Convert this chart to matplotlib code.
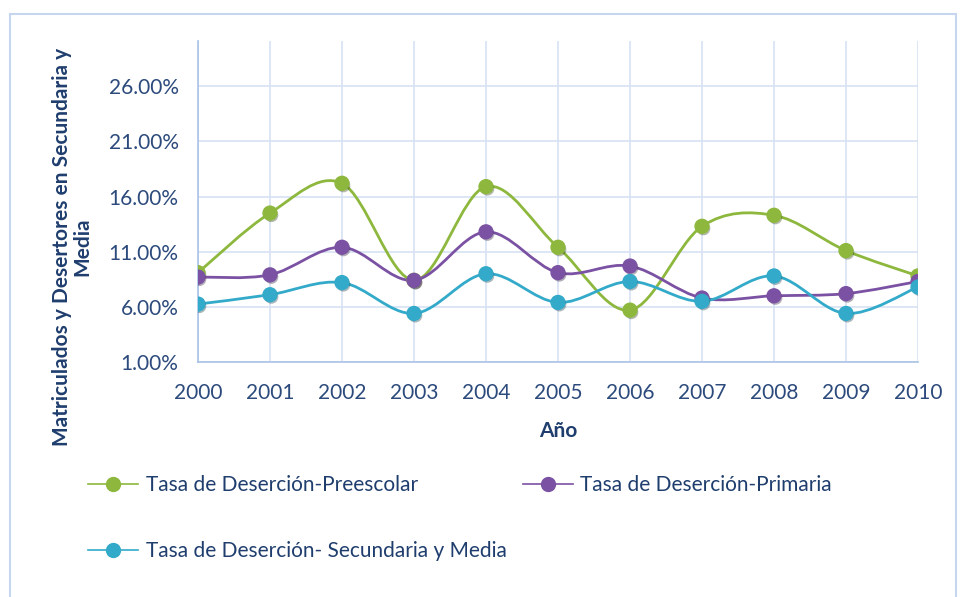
import matplotlib
matplotlib.use("Agg")
import matplotlib.pyplot as plt
import matplotlib.patheffects as pe
from matplotlib.path import Path
from matplotlib.patches import PathPatch, Rectangle
from matplotlib.lines import Line2D
from matplotlib.ticker import FuncFormatter

years = [2000, 2001, 2002, 2003, 2004, 2005, 2006, 2007, 2008, 2009, 2010]
preescolar = [9.1, 14.5, 17.2, 8.4, 16.9, 11.4, 5.7, 13.3, 14.3, 11.1, 8.8]
primaria = [8.7, 8.9, 11.4, 8.4, 12.8, 9.1, 9.7, 6.8, 7.0, 7.2, 8.3]
secundaria = [6.25, 7.1, 8.2, 5.4, 9.0, 6.4, 8.3, 6.5, 8.8, 5.4, 7.8]
yticks = [1, 6, 11, 16, 21, 26]

series = [
    ("Tasa de Deserción-Preescolar", preescolar, "#8db83d"),
    ("Tasa de Deserción-Primaria", primaria, "#7b52a3"),
    ("Tasa de Deserción- Secundaria y Media", secundaria, "#33aac9"),
]

dark = "#1f3e6e"
grid = "#d6e2f3"
axis_col = "#a9c3e6"

plt.rcParams['font.family'] = ['Lato', 'DejaVu Sans']

fig = plt.figure(figsize=(9.61, 5.97), dpi=100)
fig.patches.append(Rectangle((10 / 961, -0.01), 946 / 961, 1 - 14 / 597 + 0.01,
                             transform=fig.transFigure, fill=False,
                             edgecolor="#c5d6ee", linewidth=1.5))
ax = fig.add_axes([198 / 961, 1 - 362 / 597, 720 / 961, 321 / 597])


def smooth_path(xs, ys):
    # bezier segments like Excel's smoothed line
    verts = [(xs[0], ys[0])]
    codes = [Path.MOVETO]
    n = len(xs)
    for i in range(n - 1):
        x0, y0 = (xs[i - 1], ys[i - 1]) if i > 0 else (xs[i], ys[i])
        x3, y3 = (xs[i + 2], ys[i + 2]) if i + 2 < n else (xs[i + 1], ys[i + 1])
        c1 = (xs[i] + (xs[i + 1] - x0) / 6, ys[i] + (ys[i + 1] - y0) / 6)
        c2 = (xs[i + 1] - (x3 - xs[i]) / 6, ys[i + 1] - (y3 - ys[i]) / 6)
        verts += [c1, c2, (xs[i + 1], ys[i + 1])]
        codes += [Path.CURVE4] * 3
    return Path(verts, codes)


shadow = [pe.SimplePatchShadow(offset=(1, -1.5), alpha=0.35), pe.Normal()]
handles = {}
for label, vals, col in series:
    ax.add_patch(PathPatch(smooth_path(years, vals), fill=False, edgecolor=col,
                           linewidth=2, zorder=3))
    ax.plot(years, vals, linestyle="none", marker="o", markersize=10,
            color=col, zorder=4, path_effects=shadow)
    handles[label] = Line2D([], [], color=col, linewidth=1.2, marker="o",
                            markersize=10, label=label)

ax.set_xlim(2000, 2010)
ax.set_ylim(1, 30.1)
ax.set_xticks(years)
ax.set_yticks(yticks)
ax.yaxis.set_major_formatter(FuncFormatter(lambda v, p: f"{v:.2f}%"))
ax.grid(True, color=grid, linewidth=1.2)
ax.set_axisbelow(True)
for s in ["top", "right"]:
    ax.spines[s].set_visible(False)
ax.spines["left"].set_color(axis_col)
ax.spines["bottom"].set_color(axis_col)
ax.spines["left"].set_linewidth(1.2)
ax.spines["bottom"].set_linewidth(1.2)
ax.tick_params(length=0, labelsize=15, labelcolor="#2c4a7c")
ax.tick_params(axis="y", pad=14)
ax.tick_params(axis="x", pad=15)

ax.set_xlabel("Año", fontsize=15, fontweight="bold", color=dark, labelpad=13)
fig.text(72 / 961, 1 - 247 / 597, "Matriculados y Desertores en Secundaria y\nMedia",
         rotation=90, ha="center", va="center", fontsize=15, fontweight="bold",
         color=dark, linespacing=1.0)

# column-major fill: pre, sec in col 1, prim in col 2
order = [series[0][0], series[2][0], series[1][0]]
leg = fig.legend(handles=[handles[k] for k in order], loc="upper left", ncol=2,
                 bbox_to_anchor=(80 / 961, 1 - 467 / 597), frameon=False,
                 fontsize=15, handlelength=2.4, handletextpad=0.35,
                 columnspacing=0.8, labelspacing=2.2, labelcolor=dark,
                 borderaxespad=0)

fig.savefig("out.png", dpi=100)
